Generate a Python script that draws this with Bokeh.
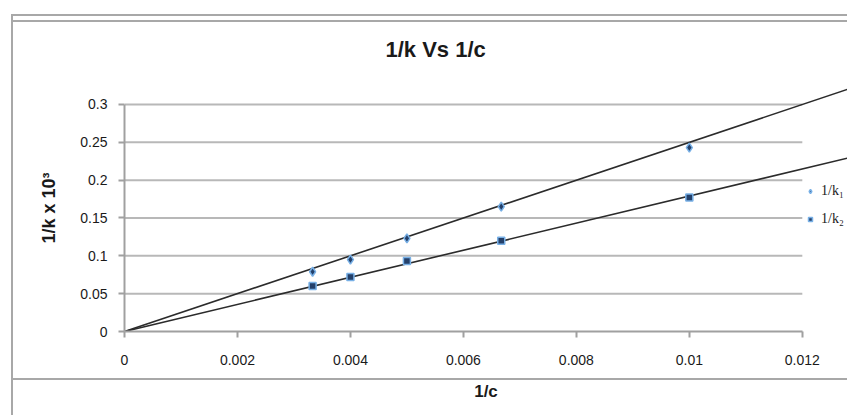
from bokeh.plotting import figure
from bokeh.models import Range1d, FixedTicker, NumeralTickFormatter, Legend, LegendItem
from bokeh.embed import file_html
from bokeh.resources import INLINE

# reciprocal concentration (1/c)
inv_c = [0.00333, 0.004, 0.005, 0.00667, 0.01]
# reciprocal rate constants, scaled by 10^3
inv_k1 = [0.079, 0.095, 0.123, 0.165, 0.243]
inv_k2 = [0.060, 0.072, 0.093, 0.120, 0.177]
series_labels = ["1/k\u2081", "1/k\u2082"]

# linear trendlines through the origin (slope of each fitted line)
trend_slope = [25.0, 17.9]
trend_x = [0.0, 0.0135]

x_ticks = [0, 0.002, 0.004, 0.006, 0.008, 0.01, 0.012]
y_ticks = [0, 0.05, 0.1, 0.15, 0.2, 0.25, 0.3]

GRID = "#b8b8b8"
AXIS = "#a0a0a0"
TEXT = "#1a1a1a"
SHEET = "#a8a8a8"
SANS = "Liberation Sans"

p = figure(width=847, height=415, output_backend="svg", toolbar_location=None,
           x_range=Range1d(0, 0.0128), y_range=Range1d(0, 0.3264),
           min_border_left=124, min_border_right=0, min_border_top=84,
           min_border_bottom=84, background_fill_color="white",
           border_fill_color=None)
p.outline_line_color = None
p.xgrid.visible = False
p.ygrid.visible = False

# sheet-style border lines drawn behind the (transparent) canvas border
bars = [("11px 14px", "900px 2px"),   # top edge
        ("12px 20px", "900px 2px"),   # inner top edge
        ("11px 14px", "2px 420px"),   # left edge
        ("12px 378px", "900px 2px")]  # cell line above the x-axis title
p.styles = {
    "background-color": "white",
    "background-image": ", ".join(f"linear-gradient({SHEET}, {SHEET})" for _ in bars),
    "background-position": ", ".join(pos for pos, _ in bars),
    "background-size": ", ".join(size for _, size in bars),
    "background-repeat": "no-repeat",
}

# title
p.title.text = "1/k Vs 1/c"
p.title.align = "left"
p.title.offset = 261
p.title.standoff = 45
p.title.text_font = SANS
p.title.text_font_size = "22px"
p.title.text_font_style = "bold"
p.title.text_color = TEXT

# horizontal gridlines, limited to the axis span
grid_y = y_ticks[1:]
p.segment(x0=[x_ticks[0]] * len(grid_y), x1=[x_ticks[-1]] * len(grid_y),
          y0=grid_y, y1=grid_y, line_color=GRID, line_width=2)

# axes
for ax in (p.xaxis[0], p.yaxis[0]):
    ax.axis_line_color = AXIS
    ax.axis_line_width = 2
    ax.major_tick_line_color = AXIS
    ax.major_tick_line_width = 2
    ax.major_tick_in = 0
    ax.minor_tick_line_color = None
    ax.major_label_text_font = SANS
    ax.major_label_text_font_size = "14px"
    ax.major_label_text_color = TEXT
    ax.axis_label_text_font = SANS
    ax.axis_label_text_font_style = "bold"
    ax.axis_label_text_color = TEXT
    ax.formatter = NumeralTickFormatter(format="0.[000]")

p.xaxis.ticker = FixedTicker(ticks=x_ticks)
p.xaxis.bounds = (x_ticks[0], x_ticks[-1])
p.xaxis.major_tick_out = 6
p.xaxis.major_label_standoff = 17
p.xaxis.axis_label = "1/c"
p.xaxis.axis_label_text_font_size = "17px"
p.xaxis.axis_label_standoff = 14

p.yaxis.ticker = FixedTicker(ticks=y_ticks)
p.yaxis.bounds = (y_ticks[0], y_ticks[-1])
p.yaxis.major_tick_out = 6
p.yaxis.major_label_standoff = 11
p.yaxis.axis_label = "1/k x 10\u00b3"
p.yaxis.axis_label_text_font_size = "18px"
p.yaxis.axis_label_standoff = 18

# trendlines
for s in trend_slope:
    p.line(trend_x, [s * x for x in trend_x], line_color="#2b2b2b", line_width=1.6)

# data points
r1 = p.scatter(inv_c, inv_k1, marker="diamond", size=9, fill_color="#24406a",
               line_color="#78b0e6", line_width=1.5)
r2 = p.scatter(inv_c, inv_k2, marker="square", size=7, fill_color="#24406a",
               line_color="#78b0e6", line_width=1.5)

legend = Legend(items=[LegendItem(label=series_labels[0], renderers=[r1]),
                       LegendItem(label=series_labels[1], renderers=[r2])],
                location=(681, 104), border_line_color=None,
                background_fill_alpha=0, padding=0, margin=0, spacing=12,
                glyph_width=10, glyph_height=10, label_standoff=6,
                label_text_font="Liberation Serif", label_text_font_size="14px",
                label_text_color=TEXT, label_height=15)
p.add_layout(legend)

open("out.html", "w").write(file_html(p, INLINE))
